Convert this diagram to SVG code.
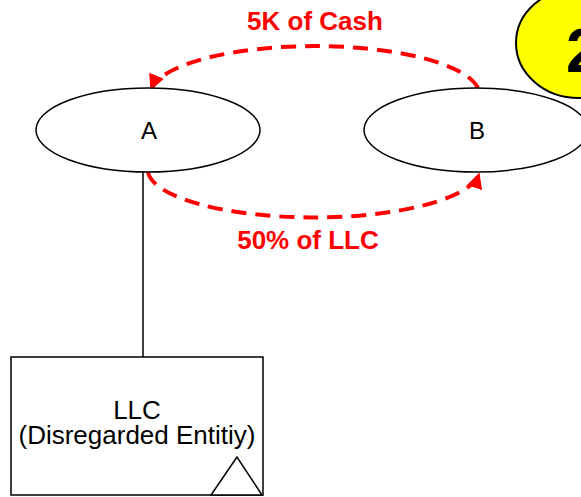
<svg xmlns="http://www.w3.org/2000/svg" width="581" height="497" viewBox="0 0 581 497">
<defs>
<style>
.node{fill:#fff;stroke:#000;stroke-width:1.5}
.lbl{font-family:"Liberation Sans",Arial,sans-serif;font-size:24px;fill:#000;text-anchor:middle}
.box{font-size:26px}
.red{font-family:"Liberation Sans",Arial,sans-serif;font-size:26px;font-weight:bold;fill:#f00;text-anchor:middle}
.flow{fill:none;stroke:#f00;stroke-width:4;stroke-dasharray:15 9}
</style>
<marker id="ah" viewBox="0 0 10 10" refX="9" refY="5" markerWidth="4" markerHeight="4" orient="auto" markerUnits="strokeWidth">
<path d="M0,0 L10,5 L0,10 z" fill="#f00"/>
</marker>
</defs>
<rect width="581" height="497" fill="#fff"/>
<g id="badge">
<ellipse cx="579" cy="43" rx="63" ry="55" fill="#ff0" stroke="#000" stroke-width="2"/>
<text x="566" y="72" font-family="Liberation Sans,Arial,sans-serif" font-size="63" font-weight="bold" fill="#000">2</text>
</g>
<g id="connectors">
<line x1="143" y1="172" x2="143" y2="357" stroke="#000" stroke-width="1.5"/>
<path class="flow" d="M478,88 A165,49 0 0 0 151,89" marker-end="url(#ah)"/>
<path class="flow" d="M148,172 A166,48 0 0 0 479,174" marker-end="url(#ah)"/>
</g>
<g id="nodeA">
<ellipse class="node" cx="148" cy="130" rx="112" ry="42"/>
<text class="lbl" x="149" y="139">A</text>
</g>
<g id="nodeB">
<ellipse class="node" cx="476" cy="130" rx="112" ry="42"/>
<text class="lbl" x="477" y="139">B</text>
</g>
<g id="nodeLLC">
<rect class="node" x="11" y="357" width="252" height="138"/>
<text class="lbl box" x="137" y="419">LLC</text>
<text class="lbl box" x="137" y="444">(Disregarded Entitiy)</text>
<polygon points="237,457 211,495 262,495" fill="#fff" stroke="#000" stroke-width="1.5"/>
</g>
<g id="labels">
<text class="red" x="315" y="30">5K of Cash</text>
<text class="red" x="308" y="249">50% of LLC</text>
</g>
</svg>
